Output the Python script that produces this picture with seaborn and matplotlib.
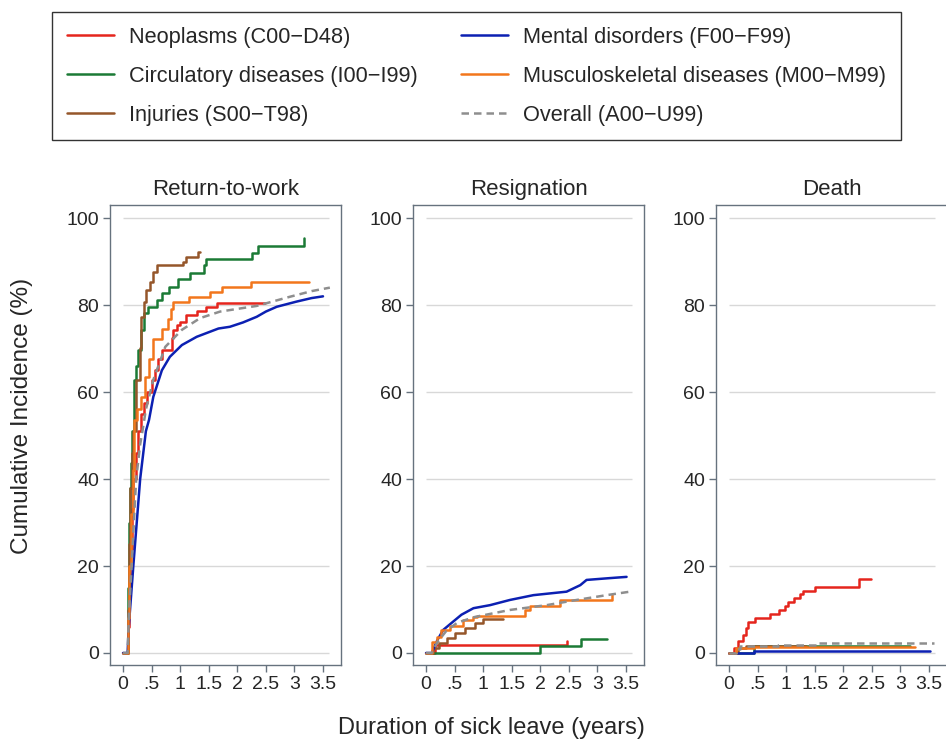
import numpy as np
import pandas as pd
import matplotlib
matplotlib.use("Agg")
import matplotlib.pyplot as plt
from matplotlib.lines import Line2D
import seaborn as sns

# cumulative incidence curves (years, %)
# --- Return-to-work ---
rtw_neoplasms = [(0, 0), (0.08, 0), (0.09, 6), (0.10, 14), (0.12, 24), (0.15, 33), (0.18, 40),
                 (0.22, 46), (0.26, 51), (0.31, 55), (0.36, 57.4), (0.42, 60), (0.50, 62.8),
                 (0.56, 65), (0.62, 67.5), (0.68, 69.7), (0.86, 72.5), (0.88, 74.3), (0.95, 75.5),
                 (1.0, 76.2), (1.11, 77.7), (1.30, 78.7), (1.46, 79.5), (1.64, 80.4), (2.49, 80.4)]
rtw_circulatory = [(0, 0), (0.08, 0), (0.09, 15), (0.10, 30), (0.12, 38), (0.14, 43.6), (0.16, 51),
                   (0.19, 62.8), (0.23, 66), (0.27, 69.7), (0.315, 74.3), (0.36, 78.2), (0.43, 79.6),
                   (0.59, 81.1), (0.68, 82.8), (0.81, 84.2), (0.97, 86.1), (1.17, 87.4), (1.41, 89.2),
                   (1.46, 90.5), (2.25, 92.0), (2.37, 93.6), (3.16, 95.3)]
rtw_injuries = [(0, 0), (0.08, 0), (0.09, 10), (0.11, 25), (0.13, 38), (0.15, 46), (0.18, 51),
                (0.23, 62.8), (0.29, 70.1), (0.31, 77.3), (0.36, 80.8), (0.40, 83.4), (0.47, 85.4),
                (0.53, 87.7), (0.59, 89.3), (1.055, 90.0), (1.11, 91.1), (1.32, 92.2), (1.34, 92.2)]
rtw_mental = [(0, 0), (0.08, 0), (0.10, 6), (0.18, 20), (0.30, 40), (0.40, 51), (0.455, 53.6),
              (0.53, 58.9), (0.68, 65), (0.82, 68.1), (1.03, 70.8), (1.29, 72.7), (1.67, 74.6),
              (1.87, 75), (2.10, 76), (2.34, 77.3), (2.5, 78.5), (2.69, 79.6), (3.04, 80.8),
              (3.30, 81.6), (3.5, 82.0)]
rtw_musculo = [(0, 0), (0.08, 0), (0.09, 8), (0.11, 20), (0.14, 32), (0.17, 42), (0.20, 53.6),
               (0.24, 56), (0.31, 58.9), (0.385, 63.5), (0.46, 67.7), (0.53, 72.3), (0.69, 74.6),
               (0.78, 76.9), (0.84, 79.2), (0.88, 80.6), (1.16, 81.8), (1.52, 82.9), (1.74, 84.1),
               (2.24, 85.4), (3.26, 85.4)]
rtw_overall = [(0, 0), (0.08, 0), (0.10, 8), (0.15, 20), (0.23, 40), (0.30, 48), (0.34, 51),
               (0.40, 56), (0.53, 62.8), (0.74, 70.4), (1.03, 74.3), (1.35, 77.0), (1.70, 78.5),
               (2.34, 79.8), (2.92, 81.9), (3.3, 83.2), (3.62, 84.0)]

# --- Resignation ---
res_neoplasms = [(0, 0), (0.16, 1.84), (2.46, 2.8)]
res_circulatory = [(0, 0), (2.0, 1.6), (2.72, 3.3), (3.16, 3.3)]
res_injuries = [(0, 0), (0.12, 1.1), (0.22, 2.2), (0.36, 3.4), (0.51, 4.5), (0.68, 5.7),
                (0.86, 6.8), (1.0, 7.8), (1.34, 7.8)]
res_mental = [(0, 0), (0.10, 0), (0.2, 3), (0.30, 5.3), (0.51, 7.6), (0.62, 8.8), (0.83, 10.3),
              (1.12, 11.0), (1.47, 12.2), (1.88, 13.3), (2.46, 14.1), (2.70, 15.6), (2.81, 16.8),
              (3.2, 17.2), (3.51, 17.5)]
res_musculo = [(0, 0), (0.10, 2.6), (0.19, 3.75), (0.27, 5.3), (0.42, 6.2), (0.65, 7.6),
               (0.83, 8.3), (0.89, 8.6), (1.73, 9.9), (1.82, 10.8), (2.35, 12.2), (3.25, 13.3)]
res_overall = [(0, 0), (0.10, 0), (0.2, 2.5), (0.35, 5), (0.55, 7), (0.86, 8.3), (1.47, 9.9),
               (2.11, 11.0), (2.64, 12.2), (3.16, 13.3), (3.57, 14.1)]

# --- Death ---
death_neoplasms = [(0, 0), (0.09, 1.1), (0.16, 2.8), (0.25, 4.1), (0.30, 5.7), (0.34, 7.2),
                   (0.455, 8.1), (0.72, 9.0), (0.875, 10.0), (0.98, 10.8), (1.04, 11.8),
                   (1.13, 12.6), (1.24, 13.6), (1.29, 14.3), (1.5, 15.1), (2.275, 16.9), (2.48, 16.9)]
death_circulatory = [(0, 0), (0.43, 1.6), (3.17, 1.6)]
death_injuries = [(0, 0), (0.15, 1.2), (0.3, 1.5), (1.34, 1.5)]
death_mental = [(0, 0), (0.43, 0.4), (1.48, 0.5), (3.52, 0.5)]
death_musculo = [(0, 0), (0.12, 1.1), (0.43, 1.45), (3.26, 1.45)]
death_overall = [(0, 0), (0.12, 1.0), (0.2, 1.5), (0.85, 1.8), (1.55, 2.2), (3.58, 2.2)]

group_labels = ["Neoplasms (C00\u2212D48)", "Circulatory diseases (I00\u2212I99)",
                "Injuries (S00\u2212T98)", "Mental disorders (F00\u2212F99)",
                "Musculoskeletal diseases (M00\u2212M99)", "Overall (A00\u2212U99)"]
group_colors = ["#e5251d", "#1b7a35", "#95562a", "#0c20b2", "#f2761c", "#8e8e8e"]
group_stepped = [True, True, True, False, True, False]

panel_titles = ["Return-to-work", "Resignation", "Death"]
panel_curves = [
    [rtw_neoplasms, rtw_circulatory, rtw_injuries, rtw_mental, rtw_musculo, rtw_overall],
    [res_neoplasms, res_circulatory, res_injuries, res_mental, res_musculo, res_overall],
    [death_neoplasms, death_circulatory, death_injuries, death_mental, death_musculo, death_overall],
]
# in the death panel every curve is a step function
panel_stepped = [group_stepped, group_stepped, [True] * 6]

x_ticks = [0, 0.5, 1, 1.5, 2, 2.5, 3, 3.5]
x_tick_labels = ["0", ".5", "1", "1.5", "2", "2.5", "3", "3.5"]
y_ticks = [0, 20, 40, 60, 80, 100]

sns.set_theme(style="white")
plt.rcParams["font.family"] = ["Liberation Sans", "DejaVu Sans"]

frame_col = "#66727e"
W, H = 946, 740
fig = plt.figure(figsize=(W / 100, H / 100), dpi=100)

for i, title in enumerate(panel_titles):
    ax = fig.add_axes([(110 + 303 * i) / W, 75 / H, 231 / W, 460 / H])
    ax.hlines(y_ticks, 0, 3.6, color="#d8d8d8", lw=1.0, zorder=0)
    for k, curve in enumerate(panel_curves[i]):
        df = pd.DataFrame(curve, columns=["t", "ci"])
        ls = (0, (3, 2)) if k == 5 else "-"
        kw = dict(drawstyle="steps-post") if panel_stepped[i][k] else {}
        sns.lineplot(data=df, x="t", y="ci", ax=ax, color=group_colors[k], lw=1.8,
                     linestyle=ls, estimator=None, sort=False, **kw)
    ax.set_xlim(-0.228, 3.815)
    ax.set_ylim(-2.76, 103)
    ax.set_xticks(x_ticks)
    ax.set_xticklabels(x_tick_labels)
    ax.set_yticks(y_ticks)
    ax.set_xlabel("")
    ax.set_ylabel("")
    ax.set_title(title, fontsize=16, pad=7)
    for sp in ax.spines.values():
        sp.set_visible(True)
        sp.set_color(frame_col)
        sp.set_linewidth(1.0)
    ax.tick_params(axis="both", which="both", direction="out", length=5, width=1,
                   color=frame_col, labelsize=14, pad=3,
                   bottom=True, left=True, top=False, right=False)

fig.text(22 / W, 1 - 416 / H, "Cumulative Incidence (%)", rotation=90,
         ha="center", va="center", fontsize=17.5)
fig.text(491 / W, 1 - 728 / H, "Duration of sick leave (years)",
         ha="center", va="center", fontsize=17)

handles = [Line2D([], [], color=c, lw=1.8, linestyle=((0, (3, 2)) if k == 5 else "-"))
           for k, c in enumerate(group_colors)]
leg = fig.legend(handles, group_labels, loc="upper left", bbox_to_anchor=(52 / W, 1 - 12 / H),
                 ncol=2, fontsize=15.7, handlelength=2.15, handletextpad=0.72,
                 columnspacing=1.95, labelspacing=0.82, borderpad=0.68, borderaxespad=0,
                 frameon=True, fancybox=False)
leg.get_frame().set_edgecolor("black")
leg.get_frame().set_linewidth(1.0)

fig.savefig("out.png", dpi=100)
